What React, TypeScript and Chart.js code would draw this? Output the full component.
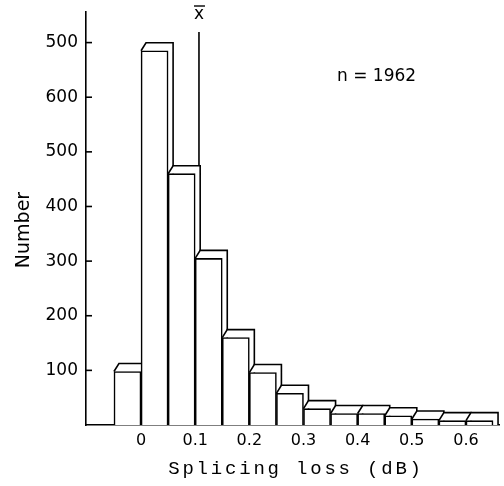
import React, { useEffect, useRef } from "react";
import { Chart, registerables } from "chart.js";

Chart.register(...registerables);

// ---- data ----
const BIN_STARTS = [-0.05, 0, 0.05, 0.1, 0.15, 0.2, 0.25, 0.3, 0.35, 0.4, 0.45, 0.5, 0.55, 0.6];
const COUNTS = [98, 685, 460, 305, 160, 96, 58, 30, 21, 21, 17, 11, 8, 8];
const BIN_WIDTH = 0.05;
const X_TICKS = [0, 0.1, 0.2, 0.3, 0.4, 0.5, 0.6];
const X_TICK_LABELS = ["0", "0.1", "0.2", "0.3", "0.4", "0.5", "0.6"];
const Y_TICKS = [100, 200, 300, 400, 500, 600, 700];
const Y_TICK_LABELS = ["100", "200", "300", "400", "500", "600", "500"];
const MEAN = 0.107;
const MEAN_LABEL = "x";
const N_LABEL = "n = 1962";
const X_TITLE = "Splicing loss (dB)";
const Y_TITLE = "Number";

const LW = 1.6;

const decoPlugin = {
  id: "deco",
  beforeDatasetsDraw(chart: any) {
    const ctx = chart.ctx;
    const xs = chart.scales.x;
    const ys = chart.scales.y;
    const meta = chart.getDatasetMeta(0);
    const dx = 5;
    const dy = -8;
    ctx.save();
    ctx.strokeStyle = "#000";
    ctx.lineWidth = LW;
    // mean line
    const mx = xs.getPixelForValue(MEAN);
    ctx.beginPath();
    ctx.moveTo(mx, 32);
    ctx.lineTo(mx, ys.getPixelForValue(0));
    ctx.stroke();
    meta.data.forEach((el: any) => {
      const { x, y, base, width } = el.getProps(["x", "y", "base", "width"], true);
      const x0 = x - width / 2;
      const x1 = x + width / 2;
      ctx.fillStyle = "#fff";
      ctx.beginPath();
      ctx.moveTo(x0, y);
      ctx.lineTo(x0 + dx, y + dy);
      ctx.lineTo(x1 + dx, y + dy);
      ctx.lineTo(x1 + dx, base);
      ctx.lineTo(x1, base);
      ctx.lineTo(x1, y);
      ctx.closePath();
      ctx.fill();
      ctx.beginPath();
      ctx.moveTo(x0, y);
      ctx.lineTo(x0 + dx, y + dy);
      ctx.lineTo(x1 + dx, y + dy);
      ctx.lineTo(x1 + dx, base);
      ctx.stroke();
    });
    ctx.restore();
  },
  afterDraw(chart: any) {
    const ctx = chart.ctx;
    const xs = chart.scales.x;
    const ys = chart.scales.y;
    const area = chart.chartArea;
    ctx.save();
    ctx.strokeStyle = "#000";
    ctx.fillStyle = "#000";
    ctx.lineWidth = LW;
    // inside y ticks
    Y_TICKS.forEach((v) => {
      const y = ys.getPixelForValue(v);
      ctx.beginPath();
      ctx.moveTo(area.left, y);
      ctx.lineTo(area.left + 6, y);
      ctx.stroke();
    });
    // y title
    ctx.save();
    ctx.translate(24, 230);
    ctx.rotate(-Math.PI / 2);
    ctx.font = '19px "DejaVu Sans"';
    ctx.textAlign = "center";
    ctx.textBaseline = "middle";
    ctx.fillText(Y_TITLE, 0, 0);
    ctx.restore();
    // x title
    ctx.save();
    ctx.font = '19px "Liberation Mono"';
    (ctx as any).letterSpacing = "2.8px";
    ctx.textAlign = "center";
    ctx.textBaseline = "alphabetic";
    ctx.fillText(X_TITLE, 296, 474);
    ctx.restore();
    // n label
    ctx.font = '17px "DejaVu Sans"';
    ctx.textAlign = "left";
    ctx.textBaseline = "middle";
    ctx.fillText(N_LABEL, 337, 77);
    // mean label
    const mx = xs.getPixelForValue(MEAN);
    ctx.font = '17px "DejaVu Sans"';
    ctx.textAlign = "center";
    ctx.textBaseline = "middle";
    ctx.fillText(MEAN_LABEL, mx, 15);
    ctx.lineWidth = 1.4;
    ctx.beginPath();
    ctx.moveTo(mx - 5, 6);
    ctx.lineTo(mx + 6, 6);
    ctx.stroke();
    ctx.restore();
  },
};

export default function App() {
  const ref = useRef<HTMLCanvasElement | null>(null);
  useEffect(() => {
    if (!ref.current) return;
    const chart = new Chart(ref.current, {
      type: "bar",
      data: {
        datasets: [
          {
            data: BIN_STARTS.map((s, i) => ({ x: s + BIN_WIDTH / 2, y: COUNTS[i] })),
            backgroundColor: "#fff",
            borderColor: "#000",
            borderWidth: LW,
            barPercentage: 1,
            categoryPercentage: 1,
          } as any,
        ],
      },
      options: {
        animation: false,
        responsive: false,
        layout: { padding: { top: 12, right: 5, left: 0, bottom: 0 } },
        plugins: { legend: { display: false }, tooltip: { enabled: false }, title: { display: false } },
        scales: {
          x: {
            type: "linear",
            offset: false,
            min: -0.1016,
            max: 0.661,
            afterBuildTicks: (s: any) => {
              s.ticks = X_TICKS.map((value) => ({ value }));
            },
            afterFit: (s: any) => {
              s.height = 61;
              s.paddingLeft = 0;
              s.paddingRight = 0;
            },
            grid: { display: false, drawTicks: false, offset: false },
            border: { display: true, color: "#000", width: LW },
            ticks: {
              autoSkip: false,
              maxRotation: 0,
              padding: 6,
              color: "#000",
              font: { family: "DejaVu Sans", size: 16 },
              callback: (_v: any, i: number) => X_TICK_LABELS[i],
            },
          },
          y: {
            type: "linear",
            min: 0,
            max: 756,
            afterBuildTicks: (s: any) => {
              s.ticks = Y_TICKS.map((value) => ({ value }));
            },
            afterFit: (s: any) => {
              s.width = 86;
              s.paddingTop = 0;
              s.paddingBottom = 0;
            },
            grid: { display: false, drawTicks: false },
            border: { display: true, color: "#000", width: LW },
            ticks: {
              autoSkip: false,
              padding: 8,
              color: "#000",
              font: { family: "DejaVu Sans", size: 17 },
              callback: (_v: any, i: number) => Y_TICK_LABELS[i],
            },
          },
        },
      } as any,
      plugins: [decoPlugin],
    });
    return () => chart.destroy();
  }, []);
  return (
    <div style={{ position: "fixed", left: 0, top: 0, width: 504, height: 486, background: "#fff" }}>
      <canvas ref={ref} width={504} height={486} style={{ display: "block" }} />
    </div>
  );
}
